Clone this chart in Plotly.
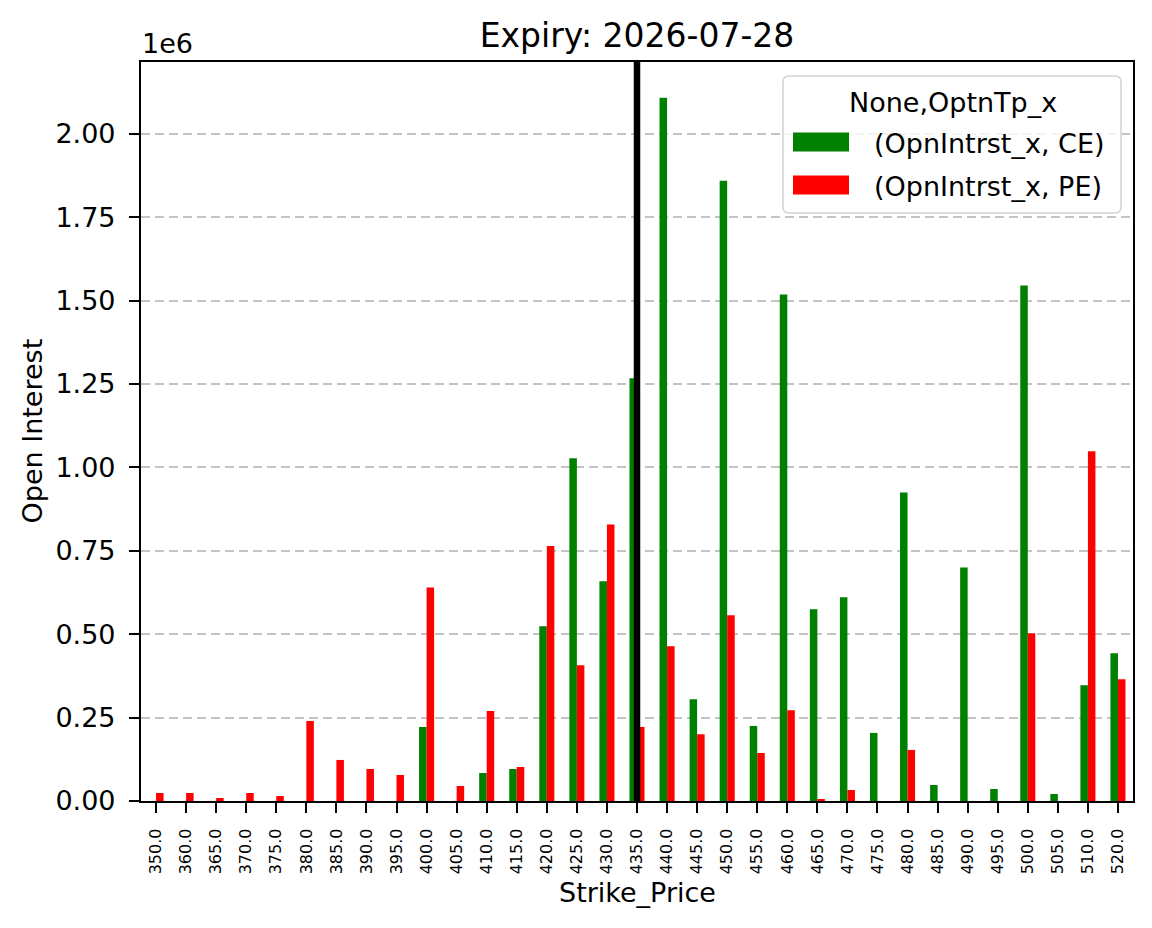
import plotly.graph_objects as go

strikes = ["350.0", "360.0", "365.0", "370.0", "375.0", "380.0", "385.0", "390.0", "395.0",
           "400.0", "405.0", "410.0", "415.0", "420.0", "425.0", "430.0", "435.0", "440.0",
           "445.0", "450.0", "455.0", "460.0", "465.0", "470.0", "475.0", "480.0", "485.0",
           "490.0", "495.0", "500.0", "505.0", "510.0", "520.0"]
ce_oi = [0, 0, 0, 0, 0, 0, 0, 0, 0,
         222000, 0, 84000, 96000, 524000, 1027000, 659000, 1267000, 2108000,
         305000, 1859000, 225000, 1518000, 575000, 611000, 204000, 925000, 48000,
         700000, 36000, 1545000, 21000, 347000, 443000]
pe_oi = [24000, 24000, 9000, 24000, 15000, 240000, 123000, 96000, 78000,
         640000, 45000, 270000, 102000, 764000, 407000, 829000, 222000, 464000,
         200000, 557000, 144000, 272000, 6000, 33000, 0, 153000, 0,
         0, 0, 503000, 0, 1048000, 365000]
series_names = [" (OpnIntrst_x, CE)", " (OpnIntrst_x, PE)"]
series_colors = ["green", "red"]
legend_title = "None,OptnTp_x"
spot_strike = "435.0"
y_ticks = [0, 250000, 500000, 750000, 1000000, 1250000, 1500000, 1750000, 2000000]
y_tick_text = ["0.00", "0.25", "0.50", "0.75", "1.00", "1.25", "1.50", "1.75", "2.00"]

font = "DejaVu Sans"
W, H = 1152, 928
L, R, T, B = 141, 1133, 62, 801


def px(x):
    return (x - L) / (R - L)


def py(y):
    return (B - y) / (B - T)


fig = go.Figure()
for vals, name, col in zip([ce_oi, pe_oi], series_names, series_colors):
    fig.add_trace(go.Bar(x=strikes, y=vals, name=name, marker_color=col,
                         marker_line_width=0, showlegend=False))

spot_idx = strikes.index(spot_strike)
fig.add_shape(type="line", xref="x", yref="paper", x0=spot_idx, x1=spot_idx, y0=0, y1=1,
              line=dict(color="black", width=6.5), layer="above")

fig.update_layout(
    width=W, height=H,
    margin=dict(l=L, r=W - R, t=T, b=H - B),
    paper_bgcolor="white", plot_bgcolor="white",
    barmode="group", bargap=0.5, bargroupgap=0,
    font=dict(family=font, color="black", size=27),
    title=dict(text="Expiry: 2026-07-28", x=px(637), xref="paper", xanchor="center",
               y=1 - 35 / H, yanchor="middle", font=dict(size=33, family=font)),
    xaxis=dict(
        type="category", tickangle=-90, tickfont=dict(size=16),
        showline=True, linecolor="black", linewidth=2.2, mirror=True,
        ticks="outside", ticklen=10, tickcolor="black", tickwidth=2.2,
        ticklabelstandoff=9,
        range=[-0.5, len(strikes) - 0.5], showgrid=False,
    ),
    yaxis=dict(
        range=[0, 2215000], tickvals=y_ticks, ticktext=y_tick_text,
        showline=True, linecolor="black", linewidth=2.2, mirror=True,
        ticks="outside", ticklen=10, tickcolor="black", tickwidth=2.2,
        ticklabelstandoff=8,
        showgrid=True, gridcolor="rgba(170,170,170,0.7)", griddash="9px,5px", gridwidth=1.6,
        tickfont=dict(size=27), zeroline=False,
    ),
    showlegend=False,
)

# axis titles and offset text
fig.add_annotation(text="Strike_Price", xref="paper", yref="paper", x=0.5, y=py(893),
                   xanchor="center", yanchor="middle", showarrow=False,
                   font=dict(size=27, family=font))
fig.add_annotation(text="Open Interest", xref="paper", yref="paper", x=px(32), y=0.5,
                   xanchor="center", yanchor="middle", textangle=-90, showarrow=False,
                   font=dict(size=27, family=font))
fig.add_annotation(text="1e6", xref="paper", yref="paper", x=px(140), y=py(44),
                   xanchor="left", yanchor="middle", showarrow=False,
                   font=dict(size=27, family=font))

# legend (matplotlib style box)
lx0, lx1, ly0, ly1, rr = 783, 1121, 76, 213, 6
path = (f"M {px(lx0 + rr)},{py(ly0)} L {px(lx1 - rr)},{py(ly0)} "
        f"Q {px(lx1)},{py(ly0)} {px(lx1)},{py(ly0 + rr)} "
        f"L {px(lx1)},{py(ly1 - rr)} Q {px(lx1)},{py(ly1)} {px(lx1 - rr)},{py(ly1)} "
        f"L {px(lx0 + rr)},{py(ly1)} Q {px(lx0)},{py(ly1)} {px(lx0)},{py(ly1 - rr)} "
        f"L {px(lx0)},{py(ly0 + rr)} Q {px(lx0)},{py(ly0)} {px(lx0 + rr)},{py(ly0)} Z")
fig.add_shape(type="path", xref="paper", yref="paper", path=path,
              fillcolor="rgba(255,255,255,0.8)", line=dict(color="#d4d4d4", width=1.6),
              layer="above")
fig.add_annotation(text=legend_title, xref="paper", yref="paper", x=px(953), y=py(103),
                   xanchor="center", yanchor="middle", showarrow=False,
                   font=dict(size=27, family=font))
for i, (name, col) in enumerate(zip(series_names, series_colors)):
    cy = 142 + i * 43
    fig.add_shape(type="rect", xref="paper", yref="paper",
                  x0=px(793), x1=px(849), y0=py(cy - 9.5), y1=py(cy + 9.5),
                  fillcolor=col, line=dict(width=0), layer="above")
    fig.add_annotation(text=name.strip(), xref="paper", yref="paper", x=px(872), y=py(cy + 1),
                       xanchor="left", yanchor="middle", showarrow=False,
                       font=dict(size=27, family=font))

fig.write_html("out.html")
